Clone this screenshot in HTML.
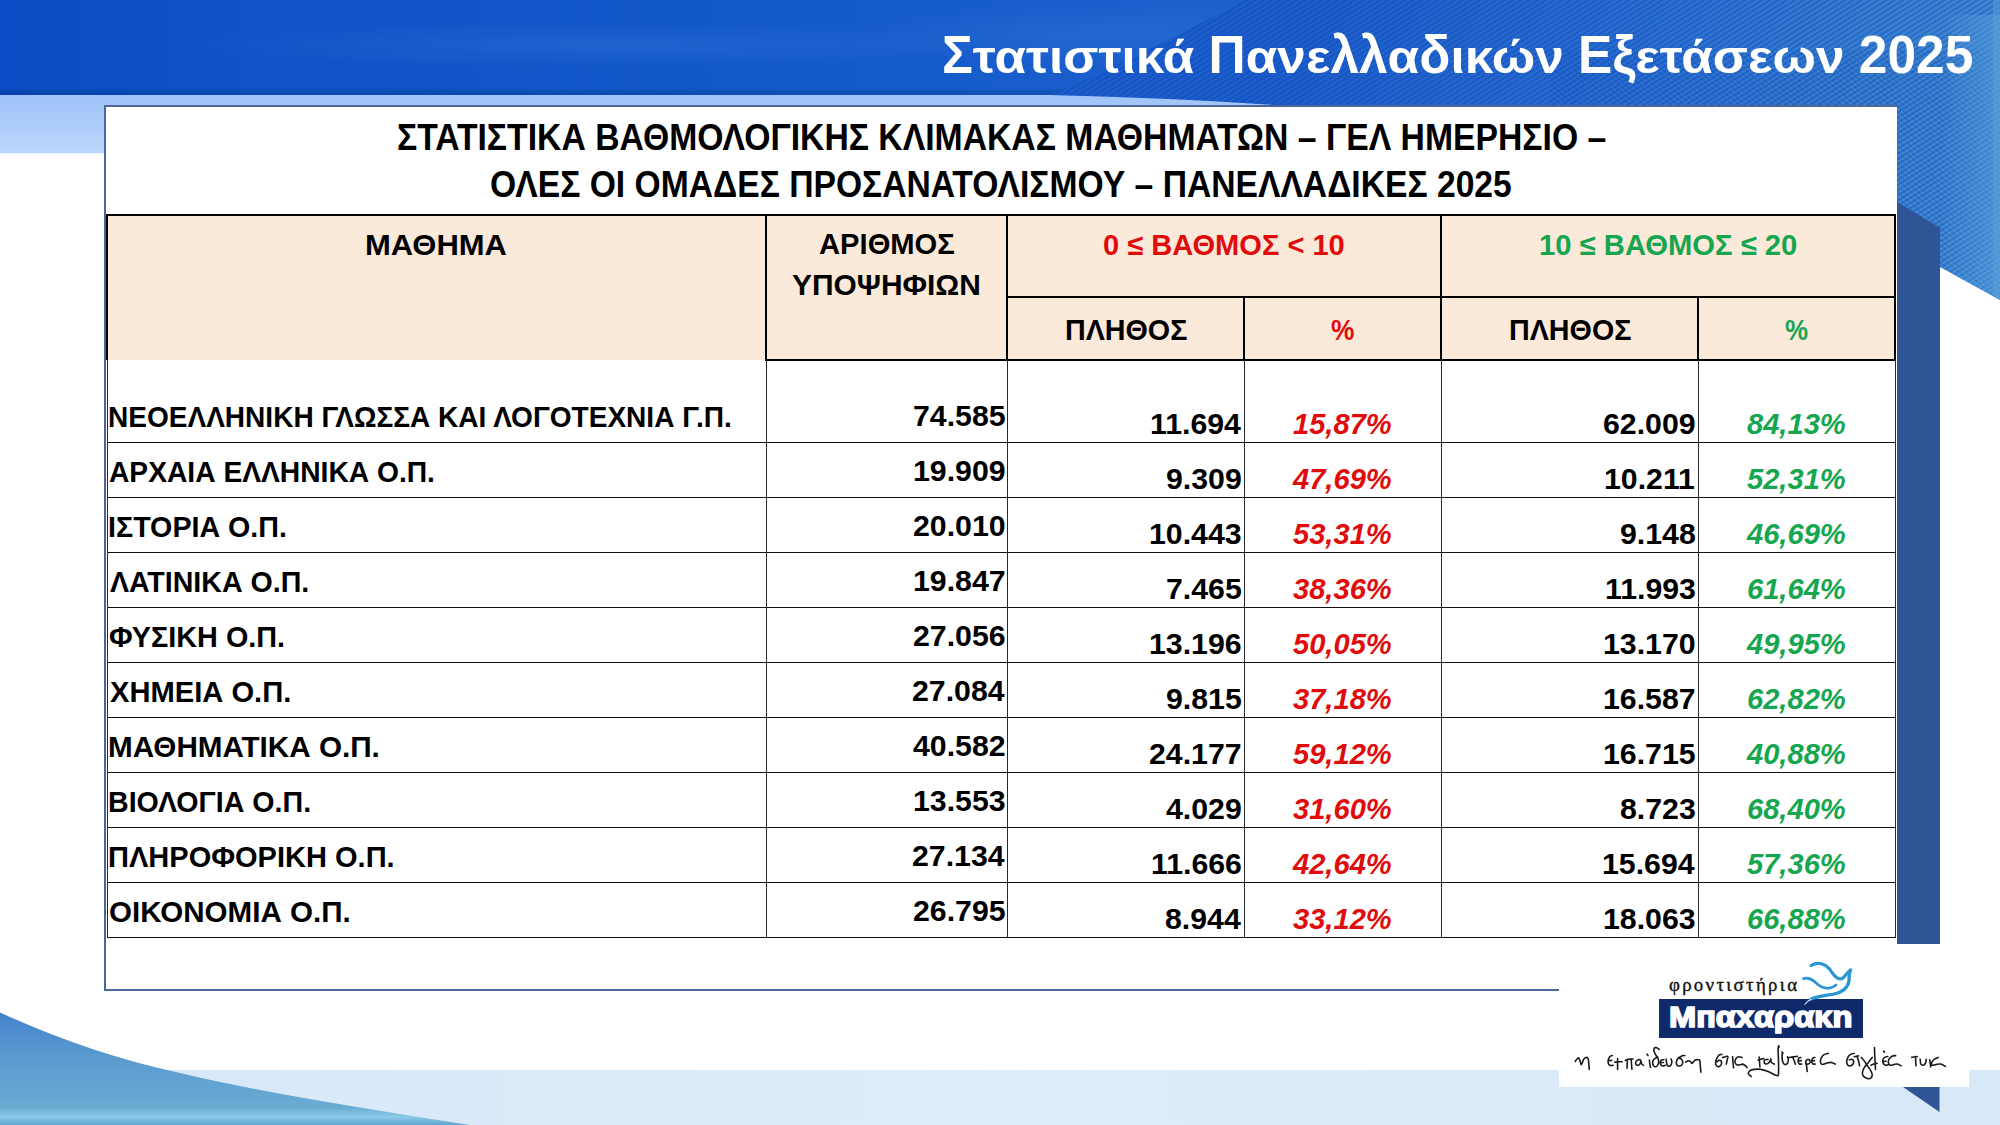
<!DOCTYPE html>
<html><head><meta charset="utf-8"><style>
html,body{margin:0;padding:0;}
body{width:2000px;height:1125px;position:relative;overflow:hidden;background:#fff;font-family:"Liberation Sans", sans-serif;font-weight:bold;}
.t{position:absolute;white-space:nowrap;transform-origin:0 0;}
.l{position:absolute;}
.xh{display:inline-block;transform:scaleY(0.84);transform-origin:0 45.72px;}
svg.bg{position:absolute;left:0;top:0;}
</style></head><body>
<svg class="bg" width="2000" height="1125" viewBox="0 0 2000 1125">
<defs>
<linearGradient id="hdr" x1="0" y1="0" x2="1" y2="0">
<stop offset="0" stop-color="#0a4cc3"/><stop offset="0.12" stop-color="#0f53c7"/><stop offset="0.35" stop-color="#1358c9"/><stop offset="0.55" stop-color="#195ecc"/><stop offset="1" stop-color="#2a6dd0"/>
</linearGradient>
<radialGradient id="streak" cx="0.5" cy="0.5" r="0.5">
<stop offset="0" stop-color="#3b7ee0" stop-opacity="0.3"/><stop offset="1" stop-color="#3b7ee0" stop-opacity="0"/>
</radialGradient>
<linearGradient id="hdrv" x1="0" y1="0" x2="0" y2="1">
<stop offset="0" stop-color="#000" stop-opacity="0"/><stop offset="0.92" stop-color="#000" stop-opacity="0"/><stop offset="1" stop-color="#00205a" stop-opacity="0.22"/>
</linearGradient>
<linearGradient id="tex" gradientUnits="userSpaceOnUse" x1="1300" y1="0" x2="1950" y2="330">
<stop offset="0" stop-color="#1c5ecd"/><stop offset="0.45" stop-color="#2a6fd2"/><stop offset="0.75" stop-color="#3a82d2"/><stop offset="1" stop-color="#4791d4"/>
</linearGradient>
<pattern id="stripes" width="4.4" height="4.4" patternUnits="userSpaceOnUse" patternTransform="rotate(-32)">
<rect width="4.4" height="2" fill="#0a3fa8" fill-opacity="0.34"/>
</pattern>
<pattern id="cross" width="4.4" height="4.4" patternUnits="userSpaceOnUse" patternTransform="rotate(40)">
<rect width="4.4" height="1.8" fill="#0a3fa8" fill-opacity="0.2"/>
</pattern>
<linearGradient id="lb" x1="0" y1="0" x2="0" y2="1">
<stop offset="0" stop-color="#9fc3f8"/><stop offset="1" stop-color="#bad6fb"/>
</linearGradient>
<linearGradient id="sw" gradientUnits="userSpaceOnUse" x1="0" y1="1010" x2="0" y2="1125">
<stop offset="0" stop-color="#4482cc"/><stop offset="0.45" stop-color="#5b9cd0"/><stop offset="0.85" stop-color="#6aacd3"/><stop offset="0.93" stop-color="#8ccbe6"/><stop offset="1" stop-color="#5fa5cf"/>
</linearGradient>
<linearGradient id="bb" x1="0" y1="0" x2="1" y2="0">
<stop offset="0" stop-color="#d6e7f8"/><stop offset="0.5" stop-color="#deedfa"/><stop offset="1" stop-color="#d8e8f8"/>
</linearGradient>
<linearGradient id="rfade" x1="0" y1="0" x2="1" y2="0"><stop offset="0" stop-color="#5aa5dc" stop-opacity="0"/><stop offset="1" stop-color="#5aa5dc" stop-opacity="0.55"/></linearGradient>
<clipPath id="texclip"><path d="M1245,0 L2000,0 L2000,300 L1940,267 C1700,140 1450,110 1282,105.5 C1200,100 1120,96.5 1050,95 C1110,70 1190,30 1245,0 Z"/></clipPath>
</defs>
<rect x="0" y="94" width="2000" height="59.3" fill="url(#lb)"/>
<rect x="0" y="1070" width="2000" height="55" fill="url(#bb)"/>
<path d="M0,1012.5 C60,1040 120,1060 180,1073 C260,1092 360,1108 470,1125 L0,1125 Z" fill="url(#sw)"/>
<rect x="0" y="0" width="2000" height="95" fill="url(#hdr)"/>
<ellipse cx="600" cy="45" rx="420" ry="22" fill="url(#streak)"/>
<ellipse cx="1100" cy="35" rx="260" ry="30" fill="url(#streak)"/>
<rect x="0" y="0" width="2000" height="95" fill="url(#hdrv)"/>
<g clip-path="url(#texclip)">
<rect x="1000" y="0" width="1000" height="300" fill="url(#tex)"/>
<rect x="1000" y="0" width="1000" height="300" fill="url(#stripes)"/>
<path d="M1550,50 L2000,50 L2000,300 L1550,300 Z" fill="url(#cross)"/>
<rect x="1940" y="15" width="60" height="290" fill="url(#rfade)"/><rect x="1993" y="0" width="7" height="300" fill="#5aa0da" fill-opacity="0.5"/>
</g>
<path d="M1897,202 L1940,228 L1940,944 L1897,944 Z" fill="#2f5597"/>
<path d="M1903,1087 L1939.5,1087 L1939.5,1112 Z" fill="#2f5597"/>
</svg>

<div style="position:absolute;left:103.5px;top:104.8px;width:1793.5px;height:886.2px;background:#fff;border:2px solid #4d6699;border-right:none;box-sizing:border-box"></div>
<div class="l" style="left:107px;top:215px;width:1788px;height:145px;background:#fbe9da"></div><div class="l" style="left:106px;top:213.9px;width:1790px;height:2.2px;background:#000"></div><div class="l" style="left:1007px;top:295.9px;width:889px;height:2.2px;background:#000"></div><div class="l" style="left:765px;top:358.9px;width:1131px;height:2.2px;background:#000"></div><div class="l" style="left:105.9px;top:215px;width:2.2px;height:145px;background:#000"></div><div class="l" style="left:764.9px;top:215px;width:2.2px;height:145px;background:#000"></div><div class="l" style="left:1005.9px;top:215px;width:2.2px;height:145px;background:#000"></div><div class="l" style="left:1242.9px;top:297px;width:2.2px;height:63px;background:#000"></div><div class="l" style="left:1439.9px;top:215px;width:2.2px;height:145px;background:#000"></div><div class="l" style="left:1696.9px;top:297px;width:2.2px;height:63px;background:#000"></div><div class="l" style="left:1893.9px;top:215px;width:2.2px;height:145px;background:#000"></div><div class="l" style="left:107px;top:442px;width:1789px;height:1.3px;background:#111"></div><div class="l" style="left:107px;top:497px;width:1789px;height:1.3px;background:#111"></div><div class="l" style="left:107px;top:552px;width:1789px;height:1.3px;background:#111"></div><div class="l" style="left:107px;top:607px;width:1789px;height:1.3px;background:#111"></div><div class="l" style="left:107px;top:662px;width:1789px;height:1.3px;background:#111"></div><div class="l" style="left:107px;top:717px;width:1789px;height:1.3px;background:#111"></div><div class="l" style="left:107px;top:772px;width:1789px;height:1.3px;background:#111"></div><div class="l" style="left:107px;top:827px;width:1789px;height:1.3px;background:#111"></div><div class="l" style="left:107px;top:882px;width:1789px;height:1.3px;background:#111"></div><div class="l" style="left:107px;top:937px;width:1789px;height:1.3px;background:#111"></div><div class="l" style="left:106.7px;top:360px;width:1.2px;height:577px;background:#2a2a2a"></div><div class="l" style="left:765.7px;top:360px;width:1.2px;height:577px;background:#2a2a2a"></div><div class="l" style="left:1006.7px;top:360px;width:1.2px;height:577px;background:#2a2a2a"></div><div class="l" style="left:1243.7px;top:360px;width:1.2px;height:577px;background:#2a2a2a"></div><div class="l" style="left:1440.7px;top:360px;width:1.2px;height:577px;background:#2a2a2a"></div><div class="l" style="left:1697.7px;top:360px;width:1.2px;height:577px;background:#2a2a2a"></div><div class="l" style="left:1894.7px;top:360px;width:1.2px;height:577px;background:#2a2a2a"></div>
<div style="position:absolute;left:1559px;top:948px;width:410px;height:139px;background:#fff"></div>
<div style="position:absolute;left:1659px;top:999px;width:203.5px;height:38.7px;background:#0f2a6b"></div>
<svg style="position:absolute;left:0;top:0" width="2000" height="1125" viewBox="0 0 2000 1125">
<g fill="none" stroke="#2b96d6" stroke-linecap="round">
<path d="M1811,965.5 C1818,961.5 1825,963.5 1829.5,969 C1833,974 1836,979 1840.5,979 C1845,978.5 1846.5,972 1850.5,970.3" stroke-width="3.1"/>
<path d="M1803.5,978.6 C1808,977.2 1811.5,979 1815,982 C1819,986 1824,988.6 1829,988.2 C1832,987.8 1834,986.6 1836,985" stroke-width="2.7"/>
<path d="M1850.5,970.3 C1849,973 1849,977 1849,981 C1848,987 1843,992 1834,994 C1826,995.5 1818,996.5 1811,999" stroke-width="3.3"/>
<path d="M1850,969.8 L1851.8,969.6" stroke-width="1.6"/>
</g>
<path d="M1811,999.2 C1808.5,1000.5 1806.5,1002 1805,1004.2" fill="none" stroke="#e8f4ff" stroke-width="1.1" stroke-linecap="round"/>
</svg>
<svg style="position:absolute;left:0;top:0" width="2000" height="1125" viewBox="0 0 2000 1125"><path d="M1575.2,1061.4 C1575.5,1061.0 1576.4,1059.6 1577.0,1059.0 C1577.6,1058.4 1578.2,1057.6 1578.7,1057.9 C1579.3,1058.3 1579.7,1060.0 1580.1,1061.1 C1580.6,1062.2 1581.0,1064.8 1581.5,1064.6 C1582.1,1064.4 1582.7,1061.2 1583.3,1060.0 C1583.9,1058.9 1584.3,1058.4 1585.0,1057.9 C1585.7,1057.5 1586.9,1057.2 1587.5,1057.6 C1588.1,1058.0 1588.3,1058.4 1588.5,1060.4 C1588.8,1062.4 1589.1,1068.0 1589.2,1069.5 M1612.3,1055.5 C1611.9,1055.7 1610.5,1056.0 1609.9,1056.5 C1609.3,1057.1 1608.8,1058.1 1608.5,1059.0 C1608.2,1059.9 1608.1,1060.9 1608.1,1061.8 C1608.2,1062.7 1608.4,1064.0 1608.8,1064.6 C1609.3,1065.2 1609.9,1065.5 1610.6,1065.6 C1611.3,1065.8 1612.6,1065.4 1613.0,1065.3 M1608.4,1060.7 L1611.6,1060.4 M1617.6,1058.6 L1617.6,1069.5 M1614.8,1062.1 C1615.5,1062.1 1617.8,1061.9 1619.0,1061.8 C1620.2,1061.7 1621.6,1061.7 1622.1,1061.7 M1625.3,1060.4 C1625.8,1060.2 1626.8,1059.6 1628.1,1059.3 C1629.4,1059.1 1632.2,1059.1 1633.0,1059.0 M1627.4,1060.0 L1627.0,1068.1 M1631.2,1059.7 L1631.9,1069.1 M1640.7,1060.0 C1640.3,1060.0 1639.0,1059.5 1638.2,1059.7 C1637.5,1059.9 1636.6,1060.7 1636.1,1061.4 C1635.7,1062.1 1635.6,1063.3 1635.8,1063.9 C1636.0,1064.5 1636.8,1065.3 1637.5,1065.3 C1638.2,1065.3 1639.4,1064.6 1640.0,1063.9 C1640.6,1063.2 1640.8,1061.1 1641.0,1061.1 C1641.3,1061.1 1641.3,1063.2 1641.7,1063.9 C1642.2,1064.6 1643.2,1065.1 1643.5,1065.3 M1649.4,1060.0 C1649.5,1060.7 1649.6,1062.7 1649.8,1063.9 C1650.0,1065.1 1650.4,1066.8 1650.5,1067.4 M1647.0,1054.1 L1648.0,1055.5 M1659.2,1049.5 C1658.8,1049.3 1657.6,1048.0 1656.8,1047.8 C1656.0,1047.6 1654.8,1047.6 1654.3,1048.1 C1653.9,1048.7 1653.7,1050.1 1654.0,1051.3 C1654.3,1052.5 1655.4,1054.2 1656.1,1055.5 C1656.8,1056.8 1657.8,1057.7 1658.2,1059.0 C1658.6,1060.3 1658.7,1062.0 1658.5,1063.2 C1658.4,1064.4 1657.8,1065.4 1657.1,1066.0 C1656.5,1066.6 1655.4,1066.9 1654.7,1066.7 C1654.0,1066.5 1653.2,1065.5 1652.9,1064.6 C1652.7,1063.7 1652.6,1062.1 1652.9,1061.1 C1653.3,1060.0 1654.2,1058.9 1655.0,1058.3 C1655.9,1057.7 1657.4,1057.4 1657.8,1057.2 M1663.8,1059.7 C1663.4,1059.8 1661.9,1059.6 1661.3,1060.0 C1660.8,1060.5 1660.4,1061.7 1660.3,1062.5 C1660.2,1063.3 1660.5,1064.4 1661.0,1064.9 C1661.5,1065.5 1662.4,1065.9 1663.1,1066.0 C1663.8,1066.1 1664.8,1065.4 1665.2,1065.3 M1660.3,1062.8 L1663.4,1062.5 M1666.2,1059.0 C1666.3,1059.7 1666.3,1062.0 1666.6,1063.2 C1666.9,1064.4 1667.3,1065.6 1668.0,1066.0 C1668.7,1066.3 1670.2,1066.0 1670.8,1065.3 C1671.4,1064.6 1671.8,1062.8 1671.8,1061.8 C1671.9,1060.7 1671.3,1059.5 1671.1,1059.0 M1684.8,1055.5 C1684.2,1055.6 1682.4,1055.7 1681.3,1056.2 C1680.2,1056.7 1679.0,1057.4 1678.1,1058.3 C1677.3,1059.2 1676.6,1060.6 1676.4,1061.8 C1676.2,1063.0 1676.6,1064.6 1677.1,1065.3 C1677.6,1066.0 1678.7,1066.1 1679.5,1066.0 C1680.4,1065.9 1681.5,1065.3 1682.0,1064.6 C1682.5,1063.9 1682.8,1062.7 1682.7,1061.8 C1682.6,1060.9 1681.9,1059.6 1681.3,1059.0 C1680.7,1058.4 1679.5,1058.4 1679.2,1058.3 M1685.8,1062.1 C1686.3,1061.9 1687.5,1060.9 1688.3,1060.7 C1689.1,1060.6 1689.8,1061.0 1690.4,1061.4 C1691.0,1061.9 1691.3,1063.5 1691.8,1063.5 C1692.3,1063.6 1693.0,1062.4 1693.5,1061.8 C1694.1,1061.2 1694.5,1060.4 1695.3,1060.0 C1696.1,1059.7 1697.3,1059.6 1698.1,1059.7 C1698.9,1059.8 1699.5,1059.6 1699.8,1060.4 C1700.2,1061.2 1700.0,1062.6 1700.2,1064.6 C1700.4,1066.6 1700.8,1071.0 1700.9,1072.3 M1721.8,1054.3 C1721.3,1054.5 1719.8,1054.4 1719.0,1055.0 C1718.2,1055.7 1717.5,1056.9 1716.9,1058.2 C1716.3,1059.5 1715.5,1061.8 1715.5,1063.1 C1715.5,1064.4 1716.2,1065.7 1716.9,1066.2 C1717.6,1066.8 1718.9,1066.7 1719.7,1066.2 C1720.5,1065.8 1721.2,1064.7 1721.4,1063.8 C1721.7,1062.9 1721.5,1061.6 1721.1,1061.0 C1720.7,1060.4 1719.7,1060.2 1719.0,1060.3 C1718.3,1060.4 1717.2,1061.5 1716.9,1061.7 M1722.5,1057.5 C1723.4,1057.3 1727.0,1056.0 1727.7,1056.4 C1728.5,1056.9 1727.3,1059.0 1727.0,1060.3 C1726.8,1061.6 1726.5,1063.5 1726.3,1064.1 M1732.6,1056.8 C1732.7,1057.7 1732.8,1060.6 1733.0,1062.4 C1733.2,1064.2 1733.5,1066.8 1733.6,1067.6 M1742.1,1057.5 C1741.5,1057.4 1739.6,1056.6 1738.6,1056.8 C1737.5,1057.0 1736.4,1058.0 1735.8,1058.9 C1735.2,1059.8 1734.9,1061.4 1735.1,1062.4 C1735.3,1063.4 1736.0,1064.4 1736.8,1064.8 C1737.7,1065.3 1739.0,1065.0 1740.0,1064.8 C1741.0,1064.7 1741.9,1064.0 1742.8,1064.1 C1743.7,1064.3 1744.9,1065.3 1745.6,1065.9 C1746.3,1066.5 1746.8,1067.4 1747.0,1067.6 M1751.2,1076.4 C1750.7,1075.9 1748.6,1074.5 1748.4,1073.6 C1748.2,1072.7 1748.9,1071.5 1749.8,1070.8 C1750.7,1070.1 1752.1,1069.6 1754.0,1069.4 C1755.9,1069.2 1758.7,1069.0 1761.0,1069.4 C1763.3,1069.7 1765.7,1070.6 1768.0,1071.5 C1770.3,1072.4 1773.4,1074.3 1775.0,1075.0 C1776.6,1075.7 1777.2,1075.9 1777.8,1075.7 C1778.4,1075.5 1778.4,1076.0 1778.5,1073.6 C1778.6,1071.1 1778.6,1064.8 1778.5,1061.0 C1778.4,1057.1 1778.1,1053.0 1778.1,1050.5 C1778.1,1048.0 1778.3,1046.5 1778.5,1045.9 C1778.7,1045.4 1779.1,1046.8 1779.2,1047.0 M1759.2,1057.1 L1759.9,1066.9 M1758.2,1060.3 C1758.7,1060.1 1760.1,1059.5 1761.0,1059.2 C1761.9,1059.0 1763.3,1058.7 1763.8,1058.5 M1768.0,1059.6 C1767.5,1059.6 1765.8,1059.2 1765.2,1059.6 C1764.6,1059.9 1764.1,1061.0 1764.1,1061.7 C1764.1,1062.4 1764.6,1063.5 1765.2,1063.8 C1765.8,1064.1 1767.2,1063.9 1768.0,1063.4 C1768.8,1063.0 1769.6,1061.8 1770.1,1061.0 C1770.6,1060.2 1770.6,1058.7 1770.8,1058.9 C1771.0,1059.1 1770.9,1061.5 1771.5,1062.4 C1772.1,1063.3 1773.8,1063.9 1774.3,1064.1 M1782.0,1054.0 C1782.1,1055.0 1782.0,1058.6 1782.3,1060.3 C1782.7,1062.0 1783.3,1063.6 1784.1,1064.1 C1784.9,1064.7 1786.2,1064.4 1786.9,1063.8 C1787.6,1063.2 1788.2,1061.5 1788.3,1060.3 C1788.4,1059.1 1787.7,1057.4 1787.6,1056.8 M1782.0,1051.9 L1783.0,1053.3 M1789.0,1057.5 C1789.7,1057.4 1791.8,1057.0 1793.2,1056.8 C1794.6,1056.6 1796.7,1056.5 1797.4,1056.4 M1792.8,1057.1 C1793.1,1057.9 1794.2,1060.5 1794.6,1061.7 C1795.0,1062.9 1795.2,1063.7 1795.3,1064.1 M1800.9,1057.5 C1800.5,1057.6 1799.3,1057.6 1798.8,1058.2 C1798.3,1058.8 1798.0,1060.1 1798.1,1061.0 C1798.2,1061.9 1798.6,1063.3 1799.1,1063.8 C1799.7,1064.3 1801.2,1064.1 1801.6,1064.1 M1798.4,1061.0 L1801.2,1060.6 M1807.2,1071.5 C1807.1,1070.4 1806.7,1066.8 1806.5,1065.2 C1806.3,1063.6 1805.7,1062.6 1805.8,1061.7 C1805.9,1060.8 1806.6,1059.9 1807.2,1059.6 C1807.8,1059.3 1808.8,1059.5 1809.3,1059.9 C1809.8,1060.4 1810.2,1061.7 1810.0,1062.4 C1809.8,1063.1 1808.9,1063.9 1808.2,1064.1 C1807.5,1064.4 1806.2,1063.9 1805.8,1063.8 M1814.9,1057.5 C1814.5,1057.6 1813.3,1057.6 1812.8,1058.2 C1812.3,1058.8 1811.7,1060.1 1811.7,1061.0 C1811.7,1061.9 1812.2,1063.3 1812.8,1063.8 C1813.4,1064.3 1814.8,1064.1 1815.2,1064.1 M1812.1,1061.0 L1814.5,1060.6 M1828.2,1053.3 C1827.5,1053.5 1825.2,1053.9 1824.0,1054.7 C1822.8,1055.5 1821.8,1056.9 1821.2,1058.2 C1820.6,1059.5 1820.3,1061.3 1820.5,1062.4 C1820.7,1063.4 1821.5,1064.4 1822.6,1064.5 C1823.6,1064.6 1825.4,1063.4 1826.8,1063.1 C1828.2,1062.7 1829.6,1062.2 1831.0,1062.4 C1832.4,1062.6 1834.5,1063.9 1835.2,1064.1 M1854.2,1053.5 C1853.6,1053.6 1851.6,1053.7 1850.6,1054.4 C1849.5,1055.0 1848.5,1056.2 1847.9,1057.4 C1847.2,1058.6 1846.7,1060.3 1846.7,1061.6 C1846.7,1062.9 1847.2,1064.5 1847.9,1065.2 C1848.5,1065.9 1849.7,1066.0 1850.6,1065.8 C1851.4,1065.6 1852.5,1064.8 1853.0,1064.0 C1853.5,1063.2 1853.8,1061.8 1853.6,1061.0 C1853.4,1060.2 1852.5,1059.4 1851.8,1059.2 C1851.1,1059.0 1849.8,1059.7 1849.4,1059.8 M1854.2,1056.8 L1858.4,1055.9 M1857.2,1056.5 C1857.4,1057.3 1858.3,1060.0 1858.7,1061.6 C1859.1,1063.1 1859.4,1065.1 1859.6,1065.8 M1861.4,1057.4 C1861.8,1057.9 1862.8,1059.0 1863.8,1060.4 C1864.8,1061.8 1866.2,1064.0 1867.4,1065.8 C1868.6,1067.6 1870.2,1069.6 1871.0,1071.2 C1871.8,1072.8 1872.3,1074.2 1872.2,1075.4 C1872.1,1076.6 1871.2,1077.9 1870.4,1078.4 C1869.6,1078.9 1868.6,1078.8 1867.4,1078.4 C1866.2,1078.0 1864.0,1077.1 1863.2,1076.0 C1862.4,1074.9 1862.3,1073.4 1862.6,1071.8 C1862.9,1070.2 1864.0,1068.0 1865.0,1066.4 C1866.0,1064.8 1867.4,1063.7 1868.6,1062.2 C1869.8,1060.7 1871.6,1058.2 1872.2,1057.4 M1874.5,1047.5 C1874.5,1049.2 1874.7,1054.3 1874.9,1058.0 C1875.1,1061.6 1875.4,1067.5 1875.5,1069.4 M1871.0,1065.2 C1871.5,1065.0 1873.0,1064.3 1874.0,1064.0 C1875.0,1063.7 1876.5,1063.5 1877.0,1063.4 M1887.8,1056.5 C1887.3,1056.6 1885.6,1056.8 1884.8,1057.4 C1884.0,1057.9 1883.2,1058.8 1883.0,1059.8 C1882.7,1060.8 1882.9,1062.5 1883.3,1063.4 C1883.7,1064.3 1884.6,1064.9 1885.4,1065.2 C1886.1,1065.4 1887.4,1064.9 1887.8,1064.9 M1883.0,1061.6 L1886.0,1061.3 M1883.6,1051.1 L1884.5,1052.3 M1895.6,1055.6 C1895.0,1055.7 1893.1,1055.6 1892.0,1056.2 C1890.9,1056.8 1889.6,1058.1 1889.0,1059.2 C1888.4,1060.3 1888.2,1061.8 1888.4,1062.8 C1888.6,1063.8 1889.3,1064.9 1890.2,1065.2 C1891.1,1065.5 1892.6,1064.8 1893.8,1064.6 C1895.0,1064.4 1896.2,1063.8 1897.4,1064.0 C1898.6,1064.2 1900.4,1065.5 1901.0,1065.8 M1911.8,1057.4 C1912.3,1057.3 1913.9,1056.9 1914.8,1056.8 C1915.7,1056.6 1916.8,1056.5 1917.2,1056.5 M1915.7,1057.1 C1915.7,1057.8 1915.6,1060.1 1915.7,1061.6 C1915.7,1063.0 1915.9,1065.1 1916.0,1065.8 M1920.2,1059.2 C1920.3,1060.0 1920.3,1063.0 1920.8,1064.0 C1921.3,1065.0 1922.4,1065.4 1923.2,1065.2 C1924.0,1065.0 1925.1,1063.8 1925.6,1062.8 C1926.1,1061.8 1926.1,1059.8 1926.2,1059.2 M1929.8,1059.8 C1929.9,1060.6 1930.2,1063.4 1930.4,1064.6 C1930.5,1065.8 1930.6,1066.6 1930.7,1067.0 M1938.2,1057.4 C1937.6,1057.7 1935.6,1058.4 1934.6,1059.2 C1933.5,1060.0 1932.3,1061.2 1931.9,1062.2 C1931.5,1063.2 1931.5,1064.8 1932.2,1065.2 C1932.8,1065.6 1934.4,1064.8 1935.8,1064.6 C1937.2,1064.4 1939.0,1063.7 1940.6,1064.0 C1942.2,1064.3 1944.6,1066.0 1945.4,1066.4" fill="none" stroke="#1a1a1a" stroke-width="1.6" stroke-linecap="round" stroke-linejoin="round"/></svg>
<div class="t" style="left:107.69px;top:401.51px;font-size:29.4px;line-height:29.4px;transform:scaleX(0.9540);">ΝΕΟΕΛΛΗΝΙΚΗ ΓΛΩΣΣΑ ΚΑΙ ΛΟΓΟΤΕΧΝΙΑ Γ.Π.</div><div class="t" style="left:912.73px;top:400.81px;font-size:29.4px;line-height:29.4px;transform:scaleX(1.0300);">74.585</div><div class="t" style="left:1150.46px;top:408.51px;font-size:29.4px;line-height:29.4px;transform:scaleX(1.0300);">11.694</div><div class="t" style="left:1293.49px;top:408.51px;font-size:29.4px;line-height:29.4px;color:#e00b0b;font-style:italic;transform:scaleX(0.9900);">15,87%</div><div class="t" style="left:1603.03px;top:408.51px;font-size:29.4px;line-height:29.4px;transform:scaleX(1.0300);">62.009</div><div class="t" style="left:1747.29px;top:408.51px;font-size:29.4px;line-height:29.4px;color:#16a650;font-style:italic;transform:scaleX(0.9900);">84,13%</div><div class="t" style="left:108.64px;top:456.81px;font-size:29.4px;line-height:29.4px;transform:scaleX(0.9596);">ΑΡΧΑΙΑ ΕΛΛΗΝΙΚΑ Ο.Π.</div><div class="t" style="left:912.73px;top:456.11px;font-size:29.4px;line-height:29.4px;transform:scaleX(1.0300);">19.909</div><div class="t" style="left:1165.91px;top:463.81px;font-size:29.4px;line-height:29.4px;transform:scaleX(1.0300);">9.309</div><div class="t" style="left:1293.49px;top:463.81px;font-size:29.4px;line-height:29.4px;color:#e00b0b;font-style:italic;transform:scaleX(0.9900);">47,69%</div><div class="t" style="left:1604.06px;top:463.81px;font-size:29.4px;line-height:29.4px;transform:scaleX(1.0300);">10.211</div><div class="t" style="left:1747.29px;top:463.81px;font-size:29.4px;line-height:29.4px;color:#16a650;font-style:italic;transform:scaleX(0.9900);">52,31%</div><div class="t" style="left:107.65px;top:511.81px;font-size:29.4px;line-height:29.4px;transform:scaleX(0.9744);">ΙΣΤΟΡΙΑ Ο.Π.</div><div class="t" style="left:912.73px;top:511.11px;font-size:29.4px;line-height:29.4px;transform:scaleX(1.0300);">20.010</div><div class="t" style="left:1149.43px;top:518.81px;font-size:29.4px;line-height:29.4px;transform:scaleX(1.0300);">10.443</div><div class="t" style="left:1293.49px;top:518.81px;font-size:29.4px;line-height:29.4px;color:#e00b0b;font-style:italic;transform:scaleX(0.9900);">53,31%</div><div class="t" style="left:1619.51px;top:518.81px;font-size:29.4px;line-height:29.4px;transform:scaleX(1.0300);">9.148</div><div class="t" style="left:1747.29px;top:518.81px;font-size:29.4px;line-height:29.4px;color:#16a650;font-style:italic;transform:scaleX(0.9900);">46,69%</div><div class="t" style="left:109.60px;top:566.81px;font-size:29.4px;line-height:29.4px;transform:scaleX(0.9724);">ΛΑΤΙΝΙΚΑ Ο.Π.</div><div class="t" style="left:912.73px;top:566.11px;font-size:29.4px;line-height:29.4px;transform:scaleX(1.0300);">19.847</div><div class="t" style="left:1165.91px;top:573.81px;font-size:29.4px;line-height:29.4px;transform:scaleX(1.0300);">7.465</div><div class="t" style="left:1293.49px;top:573.81px;font-size:29.4px;line-height:29.4px;color:#e00b0b;font-style:italic;transform:scaleX(0.9900);">38,36%</div><div class="t" style="left:1605.09px;top:573.81px;font-size:29.4px;line-height:29.4px;transform:scaleX(1.0300);">11.993</div><div class="t" style="left:1746.80px;top:573.81px;font-size:29.4px;line-height:29.4px;color:#16a650;font-style:italic;transform:scaleX(0.9900);">61,64%</div><div class="t" style="left:108.62px;top:621.81px;font-size:29.4px;line-height:29.4px;transform:scaleX(0.9797);">ΦΥΣΙΚΗ Ο.Π.</div><div class="t" style="left:912.73px;top:621.11px;font-size:29.4px;line-height:29.4px;transform:scaleX(1.0300);">27.056</div><div class="t" style="left:1149.43px;top:628.81px;font-size:29.4px;line-height:29.4px;transform:scaleX(1.0300);">13.196</div><div class="t" style="left:1293.49px;top:628.81px;font-size:29.4px;line-height:29.4px;color:#e00b0b;font-style:italic;transform:scaleX(0.9900);">50,05%</div><div class="t" style="left:1603.03px;top:628.81px;font-size:29.4px;line-height:29.4px;transform:scaleX(1.0300);">13.170</div><div class="t" style="left:1747.29px;top:628.81px;font-size:29.4px;line-height:29.4px;color:#16a650;font-style:italic;transform:scaleX(0.9900);">49,95%</div><div class="t" style="left:109.60px;top:676.81px;font-size:29.4px;line-height:29.4px;transform:scaleX(0.9912);">ΧΗΜΕΙΑ Ο.Π.</div><div class="t" style="left:911.70px;top:676.11px;font-size:29.4px;line-height:29.4px;transform:scaleX(1.0300);">27.084</div><div class="t" style="left:1165.91px;top:683.81px;font-size:29.4px;line-height:29.4px;transform:scaleX(1.0300);">9.815</div><div class="t" style="left:1293.49px;top:683.81px;font-size:29.4px;line-height:29.4px;color:#e00b0b;font-style:italic;transform:scaleX(0.9900);">37,18%</div><div class="t" style="left:1603.03px;top:683.81px;font-size:29.4px;line-height:29.4px;transform:scaleX(1.0300);">16.587</div><div class="t" style="left:1746.80px;top:683.81px;font-size:29.4px;line-height:29.4px;color:#16a650;font-style:italic;transform:scaleX(0.9900);">62,82%</div><div class="t" style="left:107.58px;top:732.11px;font-size:29.4px;line-height:29.4px;transform:scaleX(1.0090);">ΜΑΘΗΜΑΤΙΚΑ Ο.Π.</div><div class="t" style="left:912.73px;top:731.41px;font-size:29.4px;line-height:29.4px;transform:scaleX(1.0300);">40.582</div><div class="t" style="left:1149.43px;top:739.11px;font-size:29.4px;line-height:29.4px;transform:scaleX(1.0300);">24.177</div><div class="t" style="left:1293.49px;top:739.11px;font-size:29.4px;line-height:29.4px;color:#e00b0b;font-style:italic;transform:scaleX(0.9900);">59,12%</div><div class="t" style="left:1603.03px;top:739.11px;font-size:29.4px;line-height:29.4px;transform:scaleX(1.0300);">16.715</div><div class="t" style="left:1747.29px;top:739.11px;font-size:29.4px;line-height:29.4px;color:#16a650;font-style:italic;transform:scaleX(0.9900);">40,88%</div><div class="t" style="left:107.65px;top:786.91px;font-size:29.4px;line-height:29.4px;transform:scaleX(0.9727);">ΒΙΟΛΟΓΙΑ Ο.Π.</div><div class="t" style="left:912.73px;top:786.21px;font-size:29.4px;line-height:29.4px;transform:scaleX(1.0300);">13.553</div><div class="t" style="left:1165.91px;top:793.91px;font-size:29.4px;line-height:29.4px;transform:scaleX(1.0300);">4.029</div><div class="t" style="left:1293.49px;top:793.91px;font-size:29.4px;line-height:29.4px;color:#e00b0b;font-style:italic;transform:scaleX(0.9900);">31,60%</div><div class="t" style="left:1619.51px;top:793.91px;font-size:29.4px;line-height:29.4px;transform:scaleX(1.0300);">8.723</div><div class="t" style="left:1746.80px;top:793.91px;font-size:29.4px;line-height:29.4px;color:#16a650;font-style:italic;transform:scaleX(0.9900);">68,40%</div><div class="t" style="left:107.63px;top:842.11px;font-size:29.4px;line-height:29.4px;transform:scaleX(0.9875);">ΠΛΗΡΟΦΟΡΙΚΗ Ο.Π.</div><div class="t" style="left:911.70px;top:841.41px;font-size:29.4px;line-height:29.4px;transform:scaleX(1.0300);">27.134</div><div class="t" style="left:1151.49px;top:849.11px;font-size:29.4px;line-height:29.4px;transform:scaleX(1.0300);">11.666</div><div class="t" style="left:1293.49px;top:849.11px;font-size:29.4px;line-height:29.4px;color:#e00b0b;font-style:italic;transform:scaleX(0.9900);">42,64%</div><div class="t" style="left:1602.00px;top:849.11px;font-size:29.4px;line-height:29.4px;transform:scaleX(1.0300);">15.694</div><div class="t" style="left:1747.29px;top:849.11px;font-size:29.4px;line-height:29.4px;color:#16a650;font-style:italic;transform:scaleX(0.9900);">57,36%</div><div class="t" style="left:108.59px;top:896.51px;font-size:29.4px;line-height:29.4px;transform:scaleX(1.0059);">ΟΙΚΟΝΟΜΙΑ Ο.Π.</div><div class="t" style="left:912.73px;top:895.81px;font-size:29.4px;line-height:29.4px;transform:scaleX(1.0300);">26.795</div><div class="t" style="left:1164.88px;top:903.51px;font-size:29.4px;line-height:29.4px;transform:scaleX(1.0300);">8.944</div><div class="t" style="left:1293.49px;top:903.51px;font-size:29.4px;line-height:29.4px;color:#e00b0b;font-style:italic;transform:scaleX(0.9900);">33,12%</div><div class="t" style="left:1603.03px;top:903.51px;font-size:29.4px;line-height:29.4px;transform:scaleX(1.0300);">18.063</div><div class="t" style="left:1746.80px;top:903.51px;font-size:29.4px;line-height:29.4px;color:#16a650;font-style:italic;transform:scaleX(0.9900);">66,88%</div><div class="t" style="left:365.39px;top:230.01px;font-size:29.4px;line-height:29.4px;transform:scaleX(1.0538);">ΜΑΘΗΜΑ</div><div class="t" style="left:818.71px;top:228.91px;font-size:29.4px;line-height:29.4px;transform:scaleX(0.9926);">ΑΡΙΘΜΟΣ</div><div class="t" style="left:791.98px;top:269.81px;font-size:29.4px;line-height:29.4px;transform:scaleX(1.0164);">ΥΠΟΨΗΦΙΩΝ</div><div class="t" style="left:1102.51px;top:229.51px;font-size:29.4px;line-height:29.4px;color:#e00b0b;transform:scaleX(0.9889);">0 ≤ ΒΑΘΜΟΣ &lt; 10</div><div class="t" style="left:1539.21px;top:229.71px;font-size:29.4px;line-height:29.4px;color:#16a650;transform:scaleX(0.9942);">10 ≤ ΒΑΘΜΟΣ ≤ 20</div><div class="t" style="left:1064.85px;top:314.81px;font-size:29.4px;line-height:29.4px;transform:scaleX(0.9756);">ΠΛΗΘΟΣ</div><div class="t" style="left:1330.70px;top:315.31px;font-size:29.4px;line-height:29.4px;color:#e00b0b;transform:scaleX(0.8960);">%</div><div class="t" style="left:1508.75px;top:315.11px;font-size:29.4px;line-height:29.4px;transform:scaleX(0.9764);">ΠΛΗΘΟΣ</div><div class="t" style="left:1784.92px;top:315.31px;font-size:29.4px;line-height:29.4px;color:#16a650;transform:scaleX(0.8840);">%</div><div class="t" style="left:397.36px;top:119.72px;font-size:36.0px;line-height:36.0px;transform:scaleX(0.9367);">ΣΤΑΤΙΣΤΙΚΑ ΒΑΘΜΟΛΟΓΙΚΗΣ ΚΛΙΜΑΚΑΣ ΜΑΘΗΜΑΤΩΝ – ΓΕΛ ΗΜΕΡΗΣΙΟ –</div><div class="t" style="left:490.07px;top:167.22px;font-size:36.0px;line-height:36.0px;transform:scaleX(0.9345);">ΟΛΕΣ ΟΙ ΟΜΑΔΕΣ ΠΡΟΣΑΝΑΤΟΛΙΣΜΟΥ – ΠΑΝΕΛΛΑΔΙΚΕΣ 2025</div><div class="t" style="left:942.39px;top:27.28px;font-size:54.0px;line-height:54.0px;color:#fff;transform:scaleX(0.9526);">Σ<span class="xh">τατιστικά</span> Π<span class="xh">ανε</span>λλ<span class="xh">α</span>δ<span class="xh">ικών</span> Εξ<span class="xh">ετάσεων</span> 2025</div><div class="t" style="left:1668.88px;top:1003.05px;font-size:29.0px;line-height:29.0px;color:#fff;transform:scaleX(1.1242);-webkit-text-stroke:1.6px #fff;">Μпαxαρακn</div><div class="t" style="left:1668.70px;top:976.06px;font-size:18.0px;line-height:18.0px;color:#111;font-weight:normal;font-family:'Liberation Serif', serif;transform:scaleX(1.0459);letter-spacing:2.2px;-webkit-text-stroke:0.35px #111;">φροντιστήρια</div>
</body></html>
